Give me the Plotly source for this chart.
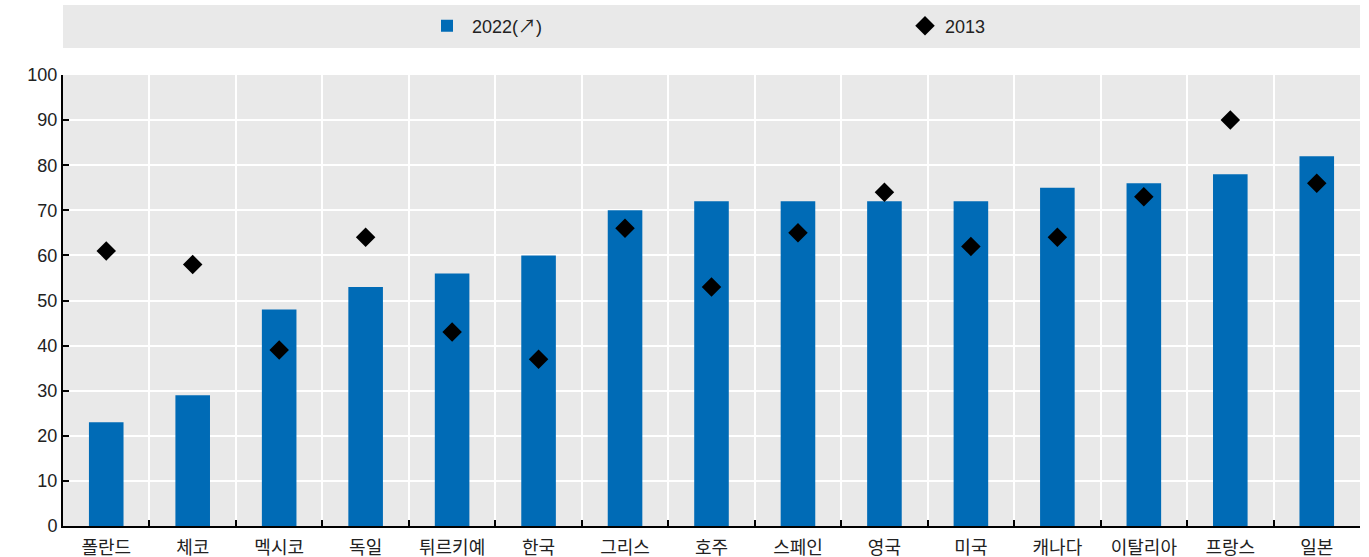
import plotly.graph_objects as go

countries = ["폴란드", "체코", "멕시코", "독일", "튀르키예", "한국", "그리스", "호주",
             "스페인", "영국", "미국", "캐나다", "이탈리아", "프랑스", "일본"]
values_2022 = [23, 29, 48, 53, 56, 60, 70, 72, 72, 72, 72, 75, 76, 78, 82]
values_2013 = [61, 58, 39, 64, 43, 37, 66, 53, 65, 74, 62, 64, 73, 90, 76]

FONT = "Liberation Sans, Arial, Noto Sans CJK KR"
W, H = 1369, 557

fig = go.Figure()
fig.add_trace(go.Bar(x=countries, y=values_2022, name="2022(↗)", legend="legend",
                     marker=dict(color="#006bb6", line=dict(width=0))))
fig.add_trace(go.Scatter(x=countries, y=values_2013, name="2013", mode="markers",
                         legend="legend2",
                         marker=dict(symbol="diamond", size=15, color="black")))

leg_common = dict(orientation="h", xref="container", yref="container",
                  yanchor="middle", y=1 - 26 / H, bgcolor="rgba(0,0,0,0)",
                  font=dict(size=18, family=FONT, color="#222"))

fig.update_layout(
    width=W, height=H,
    margin=dict(l=63, r=9, t=75, b=31, autoexpand=False),
    paper_bgcolor="white", plot_bgcolor="#e9e9e9",
    bargap=0.6,
    font=dict(family=FONT, size=18, color="#222"),
    showlegend=True,
    legend=dict(x=422 / W, xanchor="left", itemwidth=40, **leg_common),
    legend2=dict(x=905 / W, xanchor="left", **leg_common),
    shapes=[dict(type="rect", xref="paper", yref="paper", x0=0, x1=1,
                 y0=(H - 31 - 48) / 451, y1=(H - 31 - 5) / 451,
                 fillcolor="#e9e9e9", line=dict(width=0), layer="below")],
)
fig.update_xaxes(type="category", tickson="boundaries", showgrid=True, gridcolor="white",
                 gridwidth=2, showline=True, linecolor="black", linewidth=2,
                 ticks="inside", ticklen=6, tickcolor="black", tickwidth=2,
                 ticklabelstandoff=4,
                 tickfont=dict(size=18, color="#222"), range=[-0.5, 14.5])
fig.update_yaxes(range=[0, 100], dtick=10, showgrid=True, gridcolor="white", gridwidth=2,
                 showline=True, linecolor="black", linewidth=2,
                 ticks="inside", ticklen=6, tickcolor="black", tickwidth=2,
                 zeroline=False, tickfont=dict(size=18, color="#222"))

fig.write_html("out.html")
